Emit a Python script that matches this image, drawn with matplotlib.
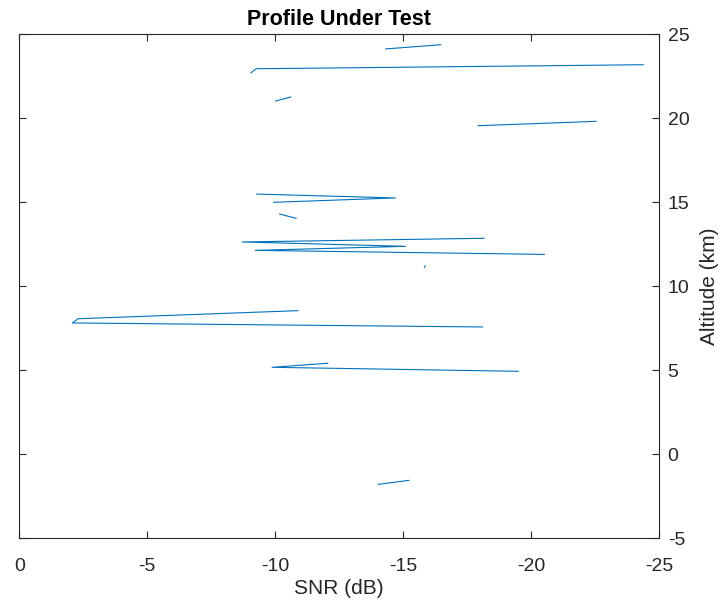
import numpy as np
import matplotlib
matplotlib.use("Agg")
import matplotlib.pyplot as plt

plt.rcParams['font.family'] = ['Liberation Sans', 'DejaVu Sans']

nan = np.nan

# SNR profile (dB) and altitude (km); NaN marks gaps between valid returns
snr_db = [
    -14.02, -15.22, nan,
    -12.05, -9.87, -19.49, nan,
    -10.88, -2.30, -2.07, -18.10, nan,
    -15.82, -15.86, nan,
    -18.16, -8.71, -15.09, -9.22, -20.51, nan,
    -10.17, -10.81, nan,
    -9.28, -14.69, -9.94, nan,
    -17.92, -22.53, nan,
    -10.02, -10.60, nan,
    -9.05, -9.25, -24.37, nan,
    -14.31, -16.46,
]
altitude_km = [
    -1.79, -1.55, nan,
    5.42, 5.18, 4.94, nan,
    8.55, 8.07, 7.82, 7.58, nan,
    11.13, 11.21, nan,
    12.86, 12.64, 12.38, 12.14, 11.90, nan,
    14.30, 14.05, nan,
    15.49, 15.26, 15.00, nan,
    19.56, 19.82, nan,
    21.03, 21.27, nan,
    22.71, 22.95, 23.19, nan,
    24.13, 24.38,
]

x_ticks = [0, -5, -10, -15, -20, -25]
y_ticks = [-5, 0, 5, 10, 15, 20, 25]

fig = plt.figure(figsize=(7.23, 6.02), dpi=100)
ax = fig.add_axes([0.0267, 0.1058, 0.8852, 0.8372])

ax.plot(snr_db, altitude_km, color='#0072BD', linewidth=0.8)

ax.set_xlim(0, -25)
ax.set_ylim(-5, 25)
ax.set_xticks(x_ticks)
ax.set_yticks(y_ticks)
ax.set_xticklabels([str(t) for t in x_ticks])
ax.set_yticklabels([str(t) for t in y_ticks])

ax.yaxis.tick_right()
ax.yaxis.set_label_position('right')
ax.tick_params(axis='both', direction='in', length=5, width=0.8,
               labelsize=14, colors='#262626',
               top=True, right=True, left=True, bottom=True,
               labelleft=False, labelright=True)
ax.tick_params(axis='x', pad=14)
ax.tick_params(axis='y', pad=6)
for side in ax.spines.values():
    side.set_color('#262626')
    side.set_linewidth(0.8)

ax.set_xlabel('SNR (dB)', fontsize=15, color='#262626', labelpad=3)
ax.set_ylabel('Altitude (km)', fontsize=15, color='#262626', labelpad=8)
ax.set_title('Profile Under Test', fontsize=15.5, fontweight='bold', pad=7)

fig.savefig('out.png', dpi=100)
